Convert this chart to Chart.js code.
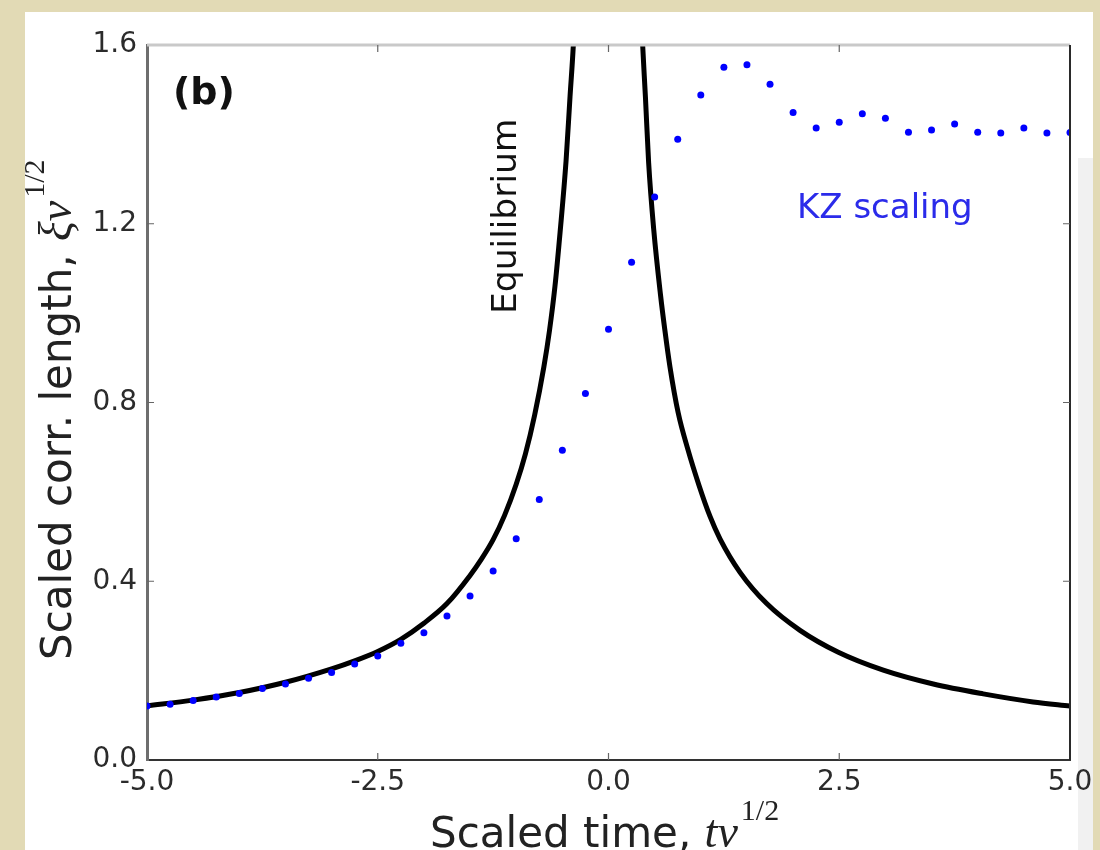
<!DOCTYPE html>
<html>
<head>
<meta charset="utf-8">
<script src="https://cdn.jsdelivr.net/npm/chart.js@4.4.0/dist/chart.umd.min.js"></script>
<style>
  html, body { margin: 0; padding: 0; background: #e2dab5; }
  #wrap { width: 1100px; height: 850px; }
</style>
</head>
<body>
<div id="wrap"><canvas id="corrChart" width="1100" height="850"></canvas></div>
<script>
// KZ simulation: scaled correlation length sampled every 0.25 in scaled time
const kzTimes = [-5, -4.75, -4.5, -4.25, -4, -3.75, -3.5, -3.25, -3, -2.75, -2.5, -2.25, -2, -1.75,
                 -1.5, -1.25, -1, -0.75, -0.5, -0.25, 0, 0.25, 0.5, 0.75, 1, 1.25, 1.5, 1.75, 2,
                 2.25, 2.5, 2.75, 3, 3.25, 3.5, 3.75, 4, 4.25, 4.5, 4.75, 5];
const kzLength = [0.121, 0.125, 0.133, 0.141, 0.149, 0.160, 0.170, 0.183, 0.196, 0.215, 0.233, 0.261,
                  0.285, 0.322, 0.367, 0.423, 0.495, 0.583, 0.693, 0.820, 0.964, 1.114, 1.260, 1.389,
                  1.488, 1.550, 1.556, 1.512, 1.449, 1.414, 1.427, 1.446, 1.436, 1.405, 1.410, 1.423,
                  1.405, 1.403, 1.414, 1.403, 1.404];

// equilibrium correlation length, two branches either side of the critical point
const eqLeftTimes = [-5.0, -4.5, -4.0, -3.5, -3.0, -2.75, -2.5, -2.25, -2.0, -1.75, -1.5, -1.375,
                     -1.25, -1.125, -1.0, -0.9, -0.8, -0.7, -0.64, -0.58, -0.525, -0.46, -0.417,
                     -0.381, -0.36];
const eqLeftLength = [0.121, 0.134, 0.151, 0.174, 0.204, 0.222, 0.243, 0.270, 0.306, 0.350, 0.413, 0.450,
                      0.493, 0.548, 0.617, 0.685, 0.772, 0.880, 0.960, 1.06, 1.18, 1.34, 1.484,
                      1.6, 1.70];
const eqRightTimes = [0.35, 0.37, 0.40, 0.435, 0.49, 0.565, 0.61, 0.665, 0.755, 0.86, 0.98, 1.1,
                      1.208, 1.425, 1.714, 2.075, 2.49, 2.977, 3.519, 4.06, 4.6, 5.0];
const eqRightLength = [1.70, 1.6, 1.484, 1.336, 1.187, 1.038, 0.963, 0.881, 0.777, 0.695, 0.615, 0.545,
                       0.495, 0.420, 0.350, 0.290, 0.241, 0.201, 0.170, 0.148, 0.130, 0.121];

const xTicks = [-5, -2.5, 0, 2.5, 5];
const yTicks = [0, 0.4, 0.8, 1.2, 1.6];

const points = (xs, ys) => xs.map((x, i) => ({ x: x, y: ys[i] }));

const SANS = '"DejaVu Sans", sans-serif';
const SERIF = '"Liberation Serif", serif';

// draws a label with an italic math part and a 1/2 superscript, starting at the origin
function mathLabel(ctx, plain, italic, sup) {
    ctx.font = '42px ' + SANS;
    ctx.fillText(plain, 0, 0);
    let x = ctx.measureText(plain).width;
    ctx.font = 'italic 46px ' + SERIF;
    ctx.fillText(italic, x, 0);
    x += ctx.measureText(italic).width + 3;
    ctx.font = '30px ' + SERIF;
    ctx.fillText(sup, x, -27);
}

const decor = {
    id: 'decor',
    beforeDraw(chart) {
        const c = chart.ctx;
        c.save();
        c.fillStyle = '#e2dab5';
        c.fillRect(0, 0, chart.width, chart.height);
        c.fillStyle = '#ffffff';
        c.fillRect(25, 12, 1068, 838);
        c.fillStyle = '#f1f1f1';
        c.fillRect(1078, 158, 15, 692);
        c.restore();
    },
    afterDraw(chart) {
        const c = chart.ctx;
        const a = chart.chartArea;
        const xs = chart.scales.x, ys = chart.scales.y;
        c.save();

        // top and right spines
        c.strokeStyle = '#c9c9c9';
        c.lineWidth = 3;
        c.beginPath();
        c.moveTo(a.left, a.top);
        c.lineTo(a.right, a.top);
        c.stroke();
        c.strokeStyle = '#2a2a2a';
        c.lineWidth = 2;
        c.beginPath();
        c.moveTo(a.right, a.top);
        c.lineTo(a.right, a.bottom);
        c.stroke();

        // inward tick marks on all four sides
        c.strokeStyle = '#666';
        c.lineWidth = 1.2;
        c.beginPath();
        xTicks.slice(1, -1).forEach(v => {
            const px = xs.getPixelForValue(v);
            c.moveTo(px, a.bottom); c.lineTo(px, a.bottom - 7);
            c.moveTo(px, a.top); c.lineTo(px, a.top + 7);
        });
        yTicks.slice(1, -1).forEach(v => {
            const py = ys.getPixelForValue(v);
            c.moveTo(a.left, py); c.lineTo(a.left + 7, py);
            c.moveTo(a.right, py); c.lineTo(a.right - 7, py);
        });
        c.stroke();

        c.fillStyle = '#111';
        c.textBaseline = 'alphabetic';
        c.textAlign = 'left';
        c.font = 'bold 38px ' + SANS;
        c.fillText('(b)', 173, 104);

        c.save();
        c.translate(516, 314);
        c.rotate(-Math.PI / 2);
        c.font = '34.5px ' + SANS;
        c.fillText('Equilibrium', 0, 0);
        c.restore();

        c.fillStyle = '#2b2bea';
        c.font = '34px ' + SANS;
        c.fillText('KZ scaling', 797, 218);

        // axis titles
        c.fillStyle = '#222';
        c.save();
        c.translate(430, 847);
        mathLabel(c, 'Scaled time, ', 'tv', '1/2');
        c.restore();

        c.save();
        c.translate(71, 660);
        c.rotate(-Math.PI / 2);
        mathLabel(c, 'Scaled corr. length, ', 'ξv', '1/2');
        c.restore();

        c.restore();
    }
};

new Chart(document.getElementById('corrChart'), {
    type: 'scatter',
    data: {
        datasets: [
            {
                label: 'KZ scaling',
                data: points(kzTimes, kzLength),
                pointRadius: 3.5,
                pointBackgroundColor: '#0000ff',
                pointBorderWidth: 0,
                showLine: false
            },
            {
                label: 'Equilibrium',
                data: points(eqLeftTimes, eqLeftLength),
                showLine: true,
                pointRadius: 0,
                borderColor: '#000',
                borderWidth: 5,
                cubicInterpolationMode: 'monotone',
                clip: 0
            },
            {
                label: 'Equilibrium',
                data: points(eqRightTimes, eqRightLength),
                showLine: true,
                pointRadius: 0,
                borderColor: '#000',
                borderWidth: 5,
                cubicInterpolationMode: 'monotone',
                clip: 0
            }
        ]
    },
    options: {
        responsive: false,
        animation: false,
        devicePixelRatio: 1,
        layout: { padding: { left: 47, top: 45, right: 30, bottom: 40 } },
        scales: {
            x: {
                type: 'linear',
                min: -5,
                max: 5,
                afterBuildTicks: s => { s.ticks = xTicks.map(v => ({ value: v })); },
                afterFit: s => { s.height = 50; },
                grid: { display: false, drawTicks: false },
                border: { display: true, color: '#333', width: 2 },
                ticks: {
                    padding: 6,
                    maxRotation: 0,
                    autoSkip: false,
                    color: '#2b2b2b',
                    font: { family: SANS, size: 28 },
                    callback: v => v.toFixed(1)
                }
            },
            y: {
                type: 'linear',
                min: 0,
                max: 1.6,
                afterBuildTicks: s => { s.ticks = yTicks.map(v => ({ value: v })); },
                afterFit: s => { s.width = 100; },
                grid: { display: false, drawTicks: false },
                border: { display: true, color: '#6e6e6e', width: 3 },
                ticks: {
                    padding: 10,
                    autoSkip: false,
                    color: '#2b2b2b',
                    font: { family: SANS, size: 28 },
                    callback: v => v.toFixed(1)
                }
            }
        },
        plugins: {
            legend: { display: false },
            tooltip: { enabled: false }
        }
    },
    plugins: [decor]
});
</script>
</body>
</html>
